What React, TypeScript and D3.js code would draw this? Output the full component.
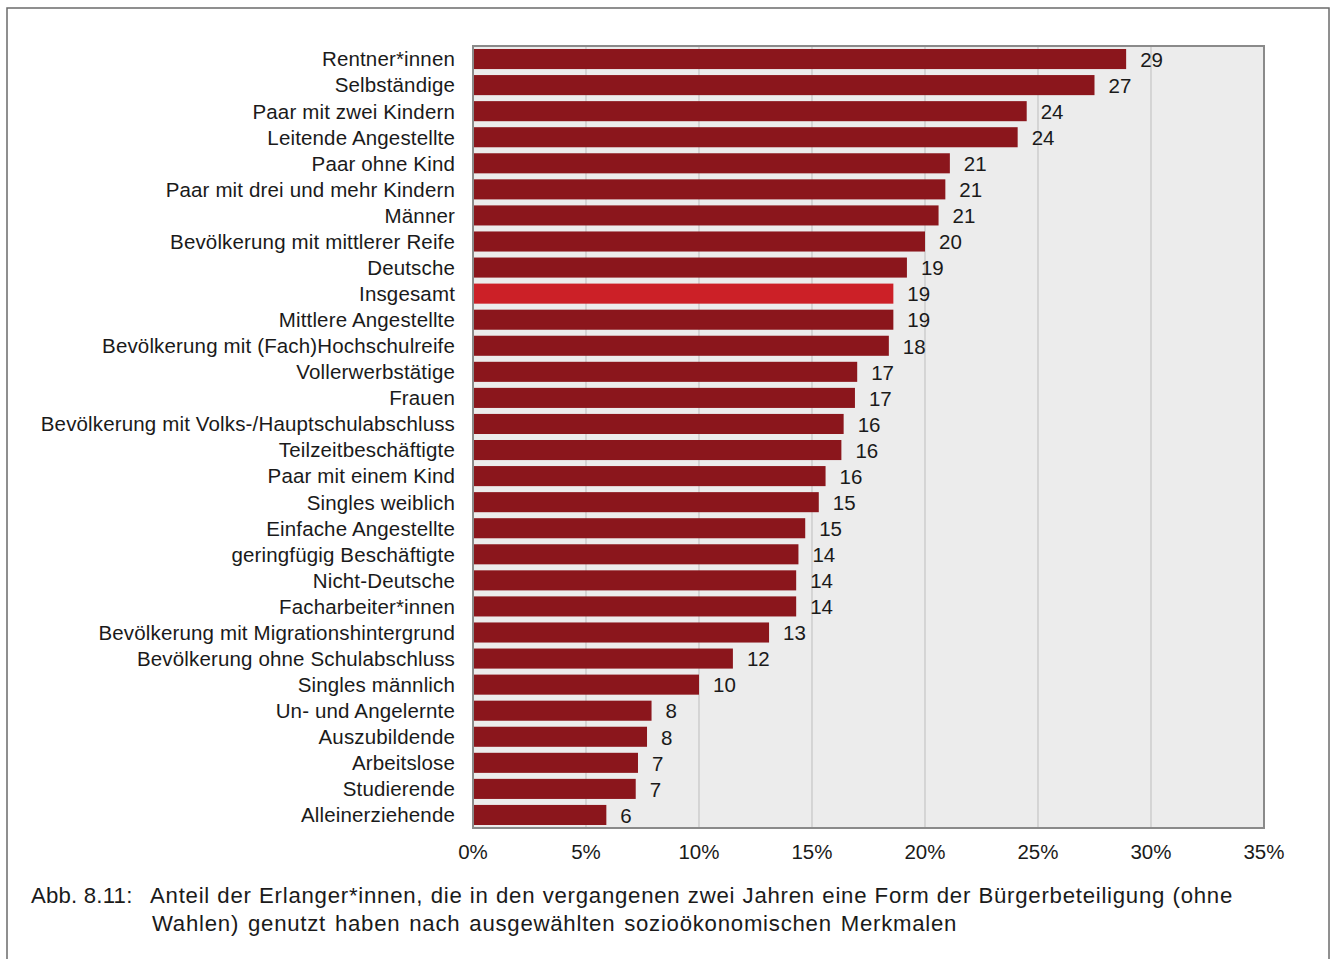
import React, { useLayoutEffect, useRef, useState } from "react";
import * as d3 from "d3";

const categories = [
  "Rentner*innen",
  "Selbständige",
  "Paar mit zwei Kindern",
  "Leitende Angestellte",
  "Paar ohne Kind",
  "Paar mit drei und mehr Kindern",
  "Männer",
  "Bevölkerung mit mittlerer Reife",
  "Deutsche",
  "Insgesamt",
  "Mittlere Angestellte",
  "Bevölkerung mit (Fach)Hochschulreife",
  "Vollerwerbstätige",
  "Frauen",
  "Bevölkerung mit Volks-/Hauptschulabschluss",
  "Teilzeitbeschäftigte",
  "Paar mit einem Kind",
  "Singles weiblich",
  "Einfache Angestellte",
  "geringfügig Beschäftigte",
  "Nicht-Deutsche",
  "Facharbeiter*innen",
  "Bevölkerung mit Migrationshintergrund",
  "Bevölkerung ohne Schulabschluss",
  "Singles männlich",
  "Un- und Angelernte",
  "Auszubildende",
  "Arbeitslose",
  "Studierende",
  "Alleinerziehende",
];

const values = [
  28.9, 27.5, 24.5, 24.1, 21.1, 20.9, 20.6, 20.0, 19.2, 18.6, 18.6, 18.4,
  17.0, 16.9, 16.4, 16.3, 15.6, 15.3, 14.7, 14.4, 14.3, 14.3, 13.1, 11.5,
  10.0, 7.9, 7.7, 7.3, 7.2, 5.9,
];

const valueLabels = [
  "29", "27", "24", "24", "21", "21", "21", "20", "19", "19", "19", "18",
  "17", "17", "16", "16", "16", "15", "15", "14", "14", "14", "13", "12",
  "10", "8", "8", "7", "7", "6",
];

const highlight = "Insgesamt";
const xTicks = [0, 5, 10, 15, 20, 25, 30, 35];
const captionLabel = "Abb. 8.11:";
const captionLine1 =
  "Anteil der Erlanger*innen, die in den vergangenen zwei Jahren eine Form der Bürgerbeteiligung (ohne";
const captionLine2 =
  "Wahlen) genutzt haben nach ausgewählten sozioökonomischen Merkmalen";

const W = 1336;
const H = 959;
const plot = { left: 473, right: 1264, top: 46, bottom: 828 };
const FONT = "'Liberation Sans', Arial, Helvetica, sans-serif";
const TEXT = "#1a1a1a";
const CAPTION_RIGHT = 1233;

export default function App() {
  const x = d3.scaleLinear().domain([0, 35]).range([plot.left, plot.right]);
  const y = d3
    .scaleBand<string>()
    .domain(categories)
    .range([plot.top, plot.bottom])
    .paddingInner(0.23)
    .paddingOuter(0.115);

  const line1Ref = useRef<SVGTextElement>(null);
  const [ws, setWs] = useState(0);
  useLayoutEffect(() => {
    const el = line1Ref.current;
    if (!el) return;
    const natural = el.getComputedTextLength();
    const spaces = captionLine1.split(" ").length - 1;
    const extra = (CAPTION_RIGHT - 150 - natural) / spaces;
    setWs(Math.max(0, extra));
  }, []);

  return (
    <svg
      width={W}
      height={H}
      style={{ position: "absolute", left: 0, top: 0, background: "#fff" }}
      fontFamily={FONT}
    >
      <rect x={7} y={8} width={1322} height={H + 20} fill="none" stroke="#6b6b6b" strokeWidth={1.5} />
      <rect
        x={plot.left}
        y={plot.top}
        width={plot.right - plot.left}
        height={plot.bottom - plot.top}
        fill="#ececec"
      />
      {xTicks.slice(1, -1).map((t) => (
        <line
          key={t}
          x1={x(t)}
          x2={x(t)}
          y1={plot.top}
          y2={plot.bottom}
          stroke="#bdbdbd"
          strokeWidth={1}
        />
      ))}
      {categories.map((c, i) => (
        <g key={c}>
          <rect
            x={x(0)}
            y={y(c)}
            width={x(values[i]) - x(0)}
            height={y.bandwidth()}
            fill={c === highlight ? "#cc2027" : "#8b161c"}
          />
          <text
            x={plot.left - 18}
            y={(y(c) as number) + y.bandwidth() / 2}
            dy="0.36em"
            textAnchor="end"
            fontSize={20.5}
            letterSpacing={0.15}
            fill={TEXT}
          >
            {c}
          </text>
          <text
            x={x(values[i]) + 14}
            y={(y(c) as number) + y.bandwidth() / 2}
            dy="0.38em"
            textAnchor="start"
            fontSize={20.5}
            fill={TEXT}
          >
            {valueLabels[i]}
          </text>
        </g>
      ))}
      <rect
        x={plot.left}
        y={plot.top}
        width={plot.right - plot.left}
        height={plot.bottom - plot.top}
        fill="none"
        stroke="#8a8a8a"
        strokeWidth={2}
      />
      {xTicks.map((t) => (
        <text key={t} x={x(t)} y={859} textAnchor="middle" fontSize={20.5} fill={TEXT}>
          {t}%
        </text>
      ))}
      <text x={31} y={902.5} fontSize={22.2} letterSpacing={0.2} fill={TEXT}>
        {captionLabel}
      </text>
      <text
        ref={line1Ref}
        x={150}
        y={902.5}
        fontSize={22.2}
        letterSpacing={0.75}
        wordSpacing={ws}
        fill={TEXT}
      >
        {captionLine1}
      </text>
      <text x={152} y={930.5} fontSize={22.2} letterSpacing={0.75} wordSpacing={2} fill={TEXT}>
        {captionLine2}
      </text>
    </svg>
  );
}
